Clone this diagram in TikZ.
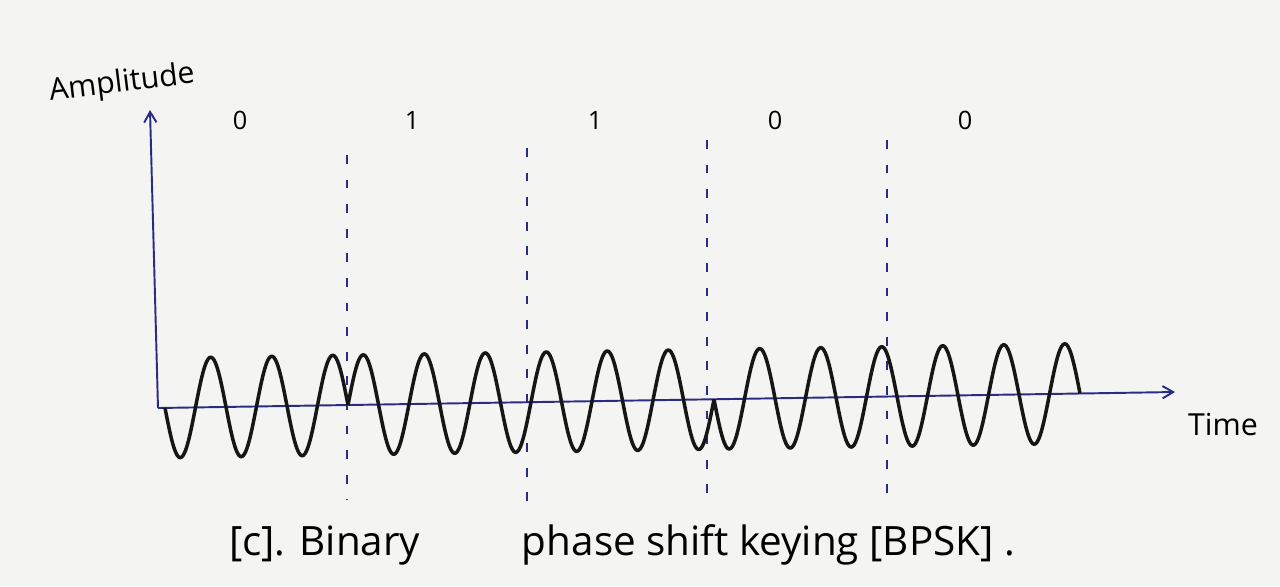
\documentclass[tikz,border=0pt]{standalone}
\usepackage{fontspec}
\setmainfont{Open Sans}
\usetikzlibrary{arrows.meta}
\definecolor{axisblue}{HTML}{2B2B86}
\definecolor{ink}{HTML}{161616}
\definecolor{paper}{HTML}{F4F4F2}

\begin{document}
\begin{tikzpicture}[x=0.02cm,y=-0.02cm]
  \fill[paper] (0,0) rectangle (1280,586);
  \useasboundingbox (0,0) rectangle (1280,586);

  % axes
  \coordinate (origin) at (158,408);
  \coordinate (ytip) at (150,110);
  \coordinate (xtip) at (1175,392);
  \draw[-{Straight Barb[length=6pt,width=7pt]},line width=1.1pt,axisblue] (origin) -- (ytip);
  \draw[-{Straight Barb[length=6pt,width=7pt]},line width=1.1pt,axisblue] (origin) -- (xtip);
  \node[font=\LARGE,rotate=7] (amp) at (122,84) {Amplitude};
  \node[font=\LARGE] (time) at (1223,424) {Time};

  % bit boundaries
  \foreach \xb/\ya/\yb in {347/155/500, 527/148/515, 707/140/500, 887/140/505}
    \draw[axisblue,thick,dash pattern=on 5pt off 9pt] (\xb,\ya) -- (\xb,\yb);

  % bit labels
  \foreach \b/\xb [count=\i] in {0/240, 1/412, 1/595, 0/775, 0/965}
    \node[font=\Large] (bit\i) at (\xb,120) {\b};

  % BPSK carrier, 3 cycles per bit, riding on the sloped time axis
  \foreach \s [count=\i from 0] in {-1,1,1,-1,-1} {
    \pgfmathsetmacro{\xa}{165+183*\i}
    \pgfmathsetmacro{\xe}{165+183*(\i+1)}
    \draw[line width=2pt,ink,line join=round]
      plot[domain=\xa:\xe,samples=120,smooth]
      (\x,{408-0.0157*(\x-158)-\s*50*sin(5.9016*(\x-\xa))});
  }

  \node[font=\fontsize{23}{28}\selectfont] (caption) at (622,545)
    {[c]. Binary \hspace{2em} phase shift keying [BPSK] .};
\end{tikzpicture}
\end{document}
